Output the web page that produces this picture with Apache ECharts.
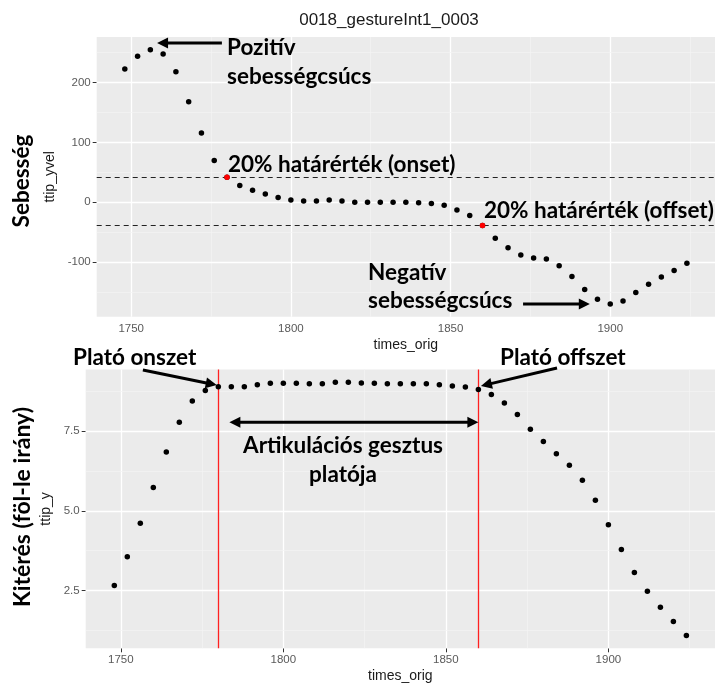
<!DOCTYPE html>
<html><head><meta charset="utf-8">
<script src="https://cdn.jsdelivr.net/npm/echarts@6/dist/echarts.min.js"></script>
<style>html,body{margin:0;padding:0;background:#fff}#c{width:720px;height:685px}</style>
</head><body><div id="c"></div>
<script>
const times = [1748,1752,1756,1760,1764,1768,1772,1776,1780,1784,1788,1792,1796,1800,1804,1808,1812,1816,1820,1824,1828,1832,1836,1840,1844,1848,1852,1856,1860,1864,1868,1872,1876,1880,1884,1888,1892,1896,1900,1904,1908,1912,1916,1920,1924];
const ttipYvel = [223,244,255,248,218,168,116,70,42,28,20,14,8,4,2,2,4,2,0,0,0,0,0,-1,-2,-5,-13,-22,-39,-60,-76,-88,-93,-95,-106,-124,-146,-162,-170,-165,-151,-137,-125,-114,-102];
const ttipY = [2.66,3.56,4.61,5.73,6.84,7.78,8.44,8.77,8.89,8.89,8.89,8.95,9.0,9.0,9.0,8.98,8.98,9.03,9.03,9.01,9.0,8.98,8.98,8.98,8.98,8.95,8.91,8.88,8.80,8.65,8.38,8.02,7.56,7.17,6.79,6.43,5.96,5.33,4.56,3.79,3.07,2.48,1.98,1.53,1.09];
const xTicks = [1750,1800,1850,1900];
const xMinor = [1775,1825,1875,1925];
const velTicks = [-100,0,100,200];
const velMinor = [-150,-50,50,150,250];
const posTicks = [2.5,5.0,7.5];
const posMinor = [1.25,3.75,6.25,8.75];
const plateauTimes = [1780,1860];
const thresholds = [42,-39];
const xRange = [1739.2,1932.8];
const velRange = [-191.3,276.3];
const posRange = [0.69,9.43];

const chart = echarts.init(document.getElementById('c'));
const tickLabel = {color:'#5a5a5a', fontSize:11.5, fontFamily:'Liberation Sans', margin:6};
const nameStyle = {color:'#1a1a1a', fontSize:14, fontFamily:'Liberation Sans'};
function xAx(gi){return {type:'value', gridIndex:gi, min:xRange[0], max:xRange[1],
  name:'times_orig', nameLocation:'middle', nameGap:21, nameTextStyle:nameStyle,
  axisLine:{show:false}, splitLine:{show:false},
  axisTick:{show:true, length:4, lineStyle:{color:'#333',width:1}, customValues:xTicks},
  axisLabel:Object.assign({customValues:xTicks, formatter:v=>String(v)}, tickLabel)};}
function gridML(xs, xm, ys, ym){
  const maj={color:'#ffffff',width:1.3,type:'solid'}, min={color:'#f4f4f4',width:0.7,type:'solid'};
  return [].concat(xs.map(v=>({xAxis:v,lineStyle:maj})), xm.map(v=>({xAxis:v,lineStyle:min})),
    ys.map(v=>({yAxis:v,lineStyle:maj})), ym.map(v=>({yAxis:v,lineStyle:min})));
}
const ml = (data,z)=>({silent:true, z:z, symbol:['none','none'], label:{show:false}, animation:false, emphasis:{disabled:true}, data:data});
const velPts = times.map((t,i)=>[t,ttipYvel[i]]);
const posPts = times.map((t,i)=>[t,ttipY[i]]);
const redPts = plateauTimes.map(t=>[t, ttipYvel[times.indexOf(t)]]);

chart.setOption({
  animation:false,
  title:{text:'0018_gestureInt1_0003', left:384, top:7, textAlign:'center',
    textStyle:{fontSize:17, fontWeight:'normal', color:'#1a1a1a', fontFamily:'Liberation Sans'}},
  grid:[
    {left:96.7, top:37, width:618.3, height:279.7, show:true, backgroundColor:'#ebebeb', borderWidth:0},
    {left:85.7, top:369.5, width:629.3, height:278.8, show:true, backgroundColor:'#ebebeb', borderWidth:0}
  ],
  xAxis:[xAx(0), xAx(1)],
  yAxis:[
    {type:'value', gridIndex:0, min:velRange[0], max:velRange[1], name:'ttip_yvel', nameLocation:'middle', nameGap:37.5, nameTextStyle:nameStyle,
      axisLine:{show:false}, splitLine:{show:false},
      axisTick:{show:true,length:4,lineStyle:{color:'#333'},customValues:velTicks},
      axisLabel:Object.assign({customValues:velTicks, formatter:v=>String(v)}, tickLabel)},
    {type:'value', gridIndex:1, min:posRange[0], max:posRange[1], name:'ttip_y', nameLocation:'middle', nameGap:25.5, nameTextStyle:nameStyle,
      axisLine:{show:false}, splitLine:{show:false},
      axisTick:{show:true,length:4,lineStyle:{color:'#333'},customValues:posTicks},
      axisLabel:Object.assign({customValues:posTicks, formatter:v=>Number(v).toFixed(1)}, tickLabel)}
  ],
  series:[
    {type:'line', xAxisIndex:0, yAxisIndex:0, data:[], z:1, markLine:ml(gridML(xTicks,xMinor,velTicks,velMinor),1)},
    {type:'line', xAxisIndex:1, yAxisIndex:1, data:[], z:1, markLine:ml(gridML(xTicks,xMinor,posTicks,posMinor),1)},
    {type:'line', xAxisIndex:0, yAxisIndex:0, data:[], z:2, markLine:ml(thresholds.map(v=>({yAxis:v, lineStyle:{color:'#222',width:1.2,type:[5,4]}})),2)},
    {type:'line', xAxisIndex:1, yAxisIndex:1, data:[], z:2, markLine:ml(plateauTimes.map(v=>({xAxis:v, lineStyle:{color:'#ff2020',width:1.3,type:'solid'}})),2)},
    {type:'scatter', xAxisIndex:0, yAxisIndex:0, data:velPts, symbolSize:5.5, itemStyle:{color:'#000',opacity:1}, z:3, silent:true},
    {type:'scatter', xAxisIndex:0, yAxisIndex:0, data:redPts, symbolSize:5.5, itemStyle:{color:'#ff0000',opacity:1}, z:4, silent:true},
    {type:'scatter', xAxisIndex:1, yAxisIndex:1, data:posPts, symbolSize:5.5, itemStyle:{color:'#000',opacity:1}, z:3, silent:true}
  ]
});

// annotations (arrow ends in data coordinates)
const arrows = [
  {g:0, from:[1778.4,266.3], to:[1758.1,266.3], both:false},
  {g:0, from:[1872.7,-170.1], to:[1893.6,-170.1], both:false},
  {g:1, from:[1756.8,9.414], to:[1779.5,8.944], both:false},
  {g:1, from:[1884.2,9.477], to:[1860.8,8.913], both:false},
  {g:1, from:[1783.4,7.775], to:[1860.0,7.775], both:true}
];
const F = 'bold 22.5px Lato';
const texts = [
  ['Pozitív',227,48,'left'],['sebességcsúcs',227,77,'left'],
  ['20% határérték (onset)',228,164.7,'left'],
  ['20% határérték (offset)',484,211,'left'],
  ['Negatív',368,273,'left'],['sebességcsúcs',368,301,'left'],
  ['Plató onszet',73,358,'left'],['Plató offszet',500,358,'left'],
  ['Artikulációs gesztus',343,446,'center'],['platója',343,474.5,'center']
];
const g = [];
function head(tip, ux, uy){const hl=11, hw=5.5; const bx=tip[0]-ux*hl, by=tip[1]-uy*hl;
  return {type:'polygon', silent:true, z:20, shape:{points:[tip,[bx-uy*hw,by+ux*hw],[bx+uy*hw,by-ux*hw]]}, style:{fill:'#000'}};}
arrows.forEach(a=>{
  const p0 = chart.convertToPixel({gridIndex:a.g}, a.from);
  const p1 = chart.convertToPixel({gridIndex:a.g}, a.to);
  const dx=p1[0]-p0[0], dy=p1[1]-p0[1], L=Math.hypot(dx,dy), ux=dx/L, uy=dy/L;
  const s = a.both ? [p0[0]+ux*8,p0[1]+uy*8] : p0;
  const e = [p1[0]-ux*8,p1[1]-uy*8];
  g.push({type:'line', silent:true, z:20, shape:{x1:s[0],y1:s[1],x2:e[0],y2:e[1]}, style:{stroke:'#000',lineWidth:3}});
  g.push(head(p1,ux,uy));
  if(a.both) g.push(head(p0,-ux,-uy));
});
texts.forEach(t=>g.push({type:'text', silent:true, z:20, x:t[1], y:t[2], style:{text:t[0], font:F, fill:'#000', align:t[3], verticalAlign:'middle'}}));
g.push({type:'text', silent:true, z:20, x:22, y:181, rotation:Math.PI/2, style:{text:'Sebesség', font:'bold 22.5px Lato', fill:'#000', align:'center', verticalAlign:'middle'}});
g.push({type:'text', silent:true, z:20, x:23, y:507, rotation:Math.PI/2, style:{text:'Kitérés (föl-le irány)', font:'bold 23px Lato', fill:'#000', align:'center', verticalAlign:'middle'}});
chart.setOption({graphic:g});
</script></body></html>
